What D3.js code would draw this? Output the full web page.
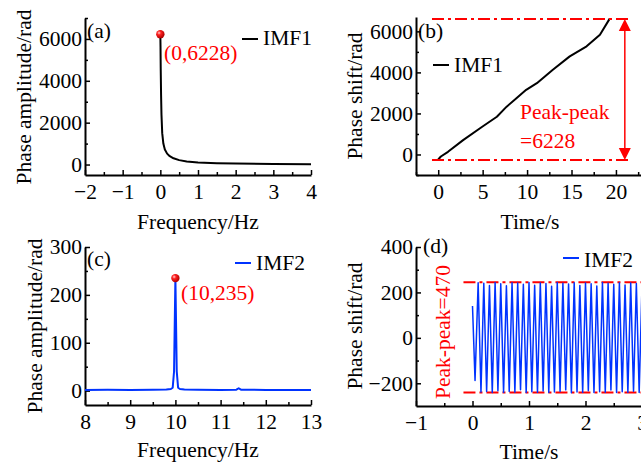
<!DOCTYPE html>
<html>
<head>
<meta charset="utf-8">
<script src="https://cdn.jsdelivr.net/npm/d3@7"></script>
<style>
  body { margin: 0; background: #fff; }
  svg { display: block; font-family: "Liberation Serif", "Times New Roman", serif; }
</style>
</head>
<body>
<svg width="641" height="465"></svg>
<script>
// (a) IMF1 spectrum
const aFreq = [0, 0.005, 0.01, 0.02, 0.03, 0.05, 0.08, 0.12, 0.18, 0.25, 0.35, 0.5, 0.7, 1.0, 1.5, 2, 3, 4];
const aAmp  = [6228, 5600, 4600, 3300, 2400, 1500, 1000, 720, 520, 400, 300, 210, 150, 100, 65, 45, 28, 18];
const aXTicks = [-2, -1, 0, 1, 2, 3, 4];
const aXMinor = [-1.5, -0.5, 0.5, 1.5, 2.5, 3.5];
const aYTicks = [0, 2000, 4000, 6000];
const aYMinor = [1000, 3000, 5000, 7000];

// (b) IMF1 phase shift
const bTime  = [0, 0.3, 1.1, 2.8, 4.95, 6.6, 7.7, 8.8, 9.9, 11.1, 12.9, 14.8, 16.7, 18.2, 19.3];
const bShift = [-245, -100, 130, 700, 1350, 1840, 2330, 2740, 3150, 3475, 4130, 4780, 5270, 5840, 6620];
const bXTicks = [0, 5, 10, 15, 20];
const bXMinor = [-2.5, 2.5, 7.5, 12.5, 17.5, 22.5];
const bYTicks = [0, 2000, 4000, 6000];
const bYMinor = [-1000, 1000, 3000, 5000];
const bPeakLines = [-270, 6600];

// (c) IMF2 spectrum
const cFreq = [8, 8.5, 9, 9.5, 9.8, 9.9, 9.94, 9.97, 10, 10.03, 10.06, 10.1, 10.2, 10.5, 11, 11.35, 11.4, 11.45, 12, 12.5, 13];
const cAmp  = [1.5, 1.8, 1.5, 2, 2.5, 3.5, 6, 40, 235, 40, 6, 3.5, 2.5, 2, 1.5, 2, 5, 2, 1.5, 1.5, 1.2];
const cXTicks = [8, 9, 10, 11, 12, 13];
const cXMinor = [8.5, 9.5, 10.5, 11.5, 12.5];
const cYTicks = [0, 100, 200, 300];
const cYMinor = [50, 150, 250];

// (d) IMF2 phase shift
const dTime = [0, 0.045, 0.1, 0.15, 0.2, 0.25, 0.3, 0.35, 0.4, 0.45,
  0.5, 0.55, 0.6, 0.65, 0.7, 0.75, 0.8, 0.85, 0.9, 0.95,
  1.0, 1.05, 1.1, 1.15, 1.2, 1.25, 1.3, 1.35, 1.4, 1.45,
  1.5, 1.55, 1.6, 1.65, 1.7, 1.75, 1.8, 1.85, 1.9, 1.95,
  2.0, 2.05, 2.1, 2.15, 2.2, 2.25, 2.3, 2.35, 2.4, 2.45,
  2.5, 2.55, 2.6, 2.65, 2.7, 2.75, 2.8, 2.85, 2.9, 2.95, 3.0];
const dShift = [140, -188, 243, -238, 240, -236, 230, -241, 244, -233,
  238, -240, 229, -236, 243, -239, 241, -228, 236, -241,
  244, -237, 232, -240, 242, -234, 239, -241, 227, -238,
  244, -236, 240, -229, 237, -242, 243, -238, 231, -240,
  242, -233, 238, -241, 228, -237, 244, -239, 240, -230,
  236, -241, 243, -237, 233, -240, 242, -235, 239, -241, 230];
const dXTicks = [-1, 0, 1, 2, 3];
const dXMinor = [-0.5, 0.5, 1.5, 2.5];
const dYTicks = [-200, 0, 200, 400];
const dYMinor = [-100, 100, 300];
const dPeakLines = [245, -241];

const FS = 21.5;
const RED = '#ff0000';
const fmt = d3.format('d');
const svg = d3.select('svg');

// shaded red ball for the peak markers
const grad = svg.append('defs').append('radialGradient')
  .attr('id', 'ball').attr('cx', '35%').attr('cy', '35%').attr('r', '65%');
grad.append('stop').attr('offset', '0%').attr('stop-color', '#ffd0d0');
grad.append('stop').attr('offset', '35%').attr('stop-color', '#ff2020');
grad.append('stop').attr('offset', '100%').attr('stop-color', '#b00000');

function styleAxis(g) {
  g.attr('font-family', null).attr('font-size', FS);
  g.selectAll('.tick line').attr('stroke-width', 1.5);
  g.selectAll('.tick text').attr('fill', '#000');
}

function makePanel(p) {
  const x = d3.scaleLinear().domain(p.xDomain).range(p.xRange);
  const y = d3.scaleLinear().domain(p.yDomain).range(p.yRange);
  const g = svg.append('g');

  // minor ticks
  g.append('g').attr('transform', `translate(0,${p.yRange[0]})`)
    .call(d3.axisBottom(x).tickValues(p.xMinor).tickSizeInner(-3).tickSizeOuter(0).tickFormat(''))
    .call(a => a.select('.domain').remove()).call(styleAxis);
  g.append('g').attr('transform', `translate(${p.xRange[0]},0)`)
    .call(d3.axisLeft(y).tickValues(p.yMinor).tickSizeInner(-3).tickSizeOuter(0).tickFormat(''))
    .call(a => a.select('.domain').remove()).call(styleAxis);

  // major ticks + labels
  g.append('g').attr('transform', `translate(0,${p.yRange[0]})`)
    .call(d3.axisBottom(x).tickValues(p.xTicks).tickFormat(fmt)
      .tickSizeInner(-5).tickSizeOuter(0).tickPadding(9))
    .call(styleAxis)
    .call(a => a.select('.domain').attr('stroke-width', 2));
  g.append('g').attr('transform', `translate(${p.xRange[0]},0)`)
    .call(d3.axisLeft(y).tickValues(p.yTicks).tickFormat(fmt)
      .tickSizeInner(-5).tickSizeOuter(0).tickPadding(3))
    .call(styleAxis)
    .call(a => a.select('.domain').attr('stroke-width', 2));

  // titles
  svg.append('text').attr('x', p.xTitlePos[0]).attr('y', p.xTitlePos[1])
    .attr('text-anchor', 'middle').attr('font-size', FS).text(p.xTitle);
  svg.append('text')
    .attr('transform', `translate(${p.yTitlePos[0]},${p.yTitlePos[1]}) rotate(-90)`)
    .attr('text-anchor', 'middle').attr('font-size', FS).text(p.yTitle);
  svg.append('text').attr('x', p.tagPos[0]).attr('y', p.tagPos[1])
    .attr('font-size', FS).text(p.tag);

  return { x, y, g };
}

function legend(x0, yLine, yText, color, label) {
  svg.append('line').attr('x1', x0).attr('x2', x0 + 16).attr('y1', yLine).attr('y2', yLine)
    .attr('stroke', color).attr('stroke-width', 2);
  svg.append('text').attr('x', x0 + 21).attr('y', yText).attr('font-size', FS).text(label);
}

function drawLine(panel, xs, ys, color, width) {
  const line = d3.line().x(i => panel.x(xs[i])).y(i => panel.y(ys[i]));
  svg.append('path').attr('d', line(d3.range(xs.length)))
    .attr('fill', 'none').attr('stroke', color).attr('stroke-width', width)
    .attr('stroke-linejoin', 'round');
}

function dashLine(panel, x1, x2, v) {
  svg.append('line')
    .attr('x1', panel.x(x1)).attr('x2', panel.x(x2))
    .attr('y1', panel.y(v)).attr('y2', panel.y(v))
    .attr('stroke', RED).attr('stroke-width', 2)
    .attr('stroke-dasharray', '12,4,3,4');
}

// ---------- (a)
const pa = makePanel({
  xDomain: [-2, 4], xRange: [85, 311], yDomain: [-500, 7000], yRange: [175, 18],
  xTicks: aXTicks, xMinor: aXMinor, yTicks: aYTicks, yMinor: aYMinor,
  xTitle: 'Frequency/Hz', xTitlePos: [198, 229],
  yTitle: 'Phase amplitude/rad', yTitlePos: [31, 97],
  tag: '(a)', tagPos: [87, 38]
});
drawLine(pa, aFreq, aAmp, '#000', 2);
svg.append('circle').attr('cx', pa.x(aFreq[0])).attr('cy', pa.y(aAmp[0])).attr('r', 4.2)
  .attr('fill', 'url(#ball)');
svg.append('text').attr('x', 164).attr('y', 60).attr('font-size', FS).attr('fill', RED)
  .text(`(${aFreq[0]},${aAmp[0]})`);
legend(242, 39, 45, '#000', 'IMF1');

// ---------- (b)
const pb = makePanel({
  xDomain: [-2.5, 23], xRange: [416, 642.6], yDomain: [-1000, 6700], yRange: [175, 17],
  xTicks: bXTicks, xMinor: bXMinor, yTicks: bYTicks, yMinor: bYMinor,
  xTitle: 'Time/s', xTitlePos: [530, 229],
  yTitle: 'Phase shift/rad', yTitlePos: [362, 96],
  tag: '(b)', tagPos: [418, 38]
});
drawLine(pb, bTime, bShift, '#000', 2);
dashLine(pb, -0.7, 21.6, bPeakLines[0]);
dashLine(pb, -0.7, 21.6, bPeakLines[1]);
{
  const ax = pb.x(21.0), yTop = pb.y(bPeakLines[1]), yBot = pb.y(bPeakLines[0]);
  svg.append('line').attr('x1', ax).attr('x2', ax).attr('y1', yTop + 6).attr('y2', yBot - 6)
    .attr('stroke', RED).attr('stroke-width', 1.5);
  svg.append('path').attr('fill', RED)
    .attr('d', `M${ax},${yTop}L${ax - 6},${yTop + 12}L${ax + 6},${yTop + 12}Z`);
  svg.append('path').attr('fill', RED)
    .attr('d', `M${ax},${yBot}L${ax - 6},${yBot - 12}L${ax + 6},${yBot - 12}Z`);
}
svg.append('text').attr('x', 520).attr('y', 119).attr('font-size', FS).attr('fill', RED).text('Peak-peak');
svg.append('text').attr('x', 520).attr('y', 148).attr('font-size', FS).attr('fill', RED).text('=6228');
legend(433, 65, 72, '#000', 'IMF1');

// ---------- (c)
const pc = makePanel({
  xDomain: [8, 13], xRange: [85, 311], yDomain: [-30, 300], yRange: [405, 247],
  xTicks: cXTicks, xMinor: cXMinor, yTicks: cYTicks, yMinor: cYMinor,
  xTitle: 'Frequency/Hz', xTitlePos: [198, 457],
  yTitle: 'Phase amplitude/rad', yTitlePos: [42, 326],
  tag: '(c)', tagPos: [87, 266]
});
drawLine(pc, cFreq, cAmp, '#0033ff', 2);
svg.append('circle').attr('cx', pc.x(10)).attr('cy', pc.y(235)).attr('r', 4.2)
  .attr('fill', 'url(#ball)');
svg.append('text').attr('x', 181).attr('y', 300).attr('font-size', FS).attr('fill', RED)
  .text('(10,235)');
legend(235, 263, 270, '#0033ff', 'IMF2');

// ---------- (d)
const pd = makePanel({
  xDomain: [-1, 3], xRange: [416, 642], yDomain: [-300, 400], yRange: [406, 247],
  xTicks: dXTicks, xMinor: dXMinor, yTicks: dYTicks, yMinor: dYMinor,
  xTitle: 'Time/s', xTitlePos: [529, 459],
  yTitle: 'Phase shift/rad', yTitlePos: [362, 326],
  tag: '(d)', tagPos: [423, 253]
});
dashLine(pd, -0.16, 3.05, dPeakLines[0]);
dashLine(pd, -0.16, 3.05, dPeakLines[1]);
drawLine(pd, dTime, dShift, '#0033ff', 1.5);
svg.append('text')
  .attr('transform', 'translate(450,332) rotate(-90)')
  .attr('text-anchor', 'middle').attr('font-size', FS).attr('fill', RED)
  .text('Peak-peak=470');
legend(563, 258, 267, '#0033ff', 'IMF2');
</script>
</body>
</html>
